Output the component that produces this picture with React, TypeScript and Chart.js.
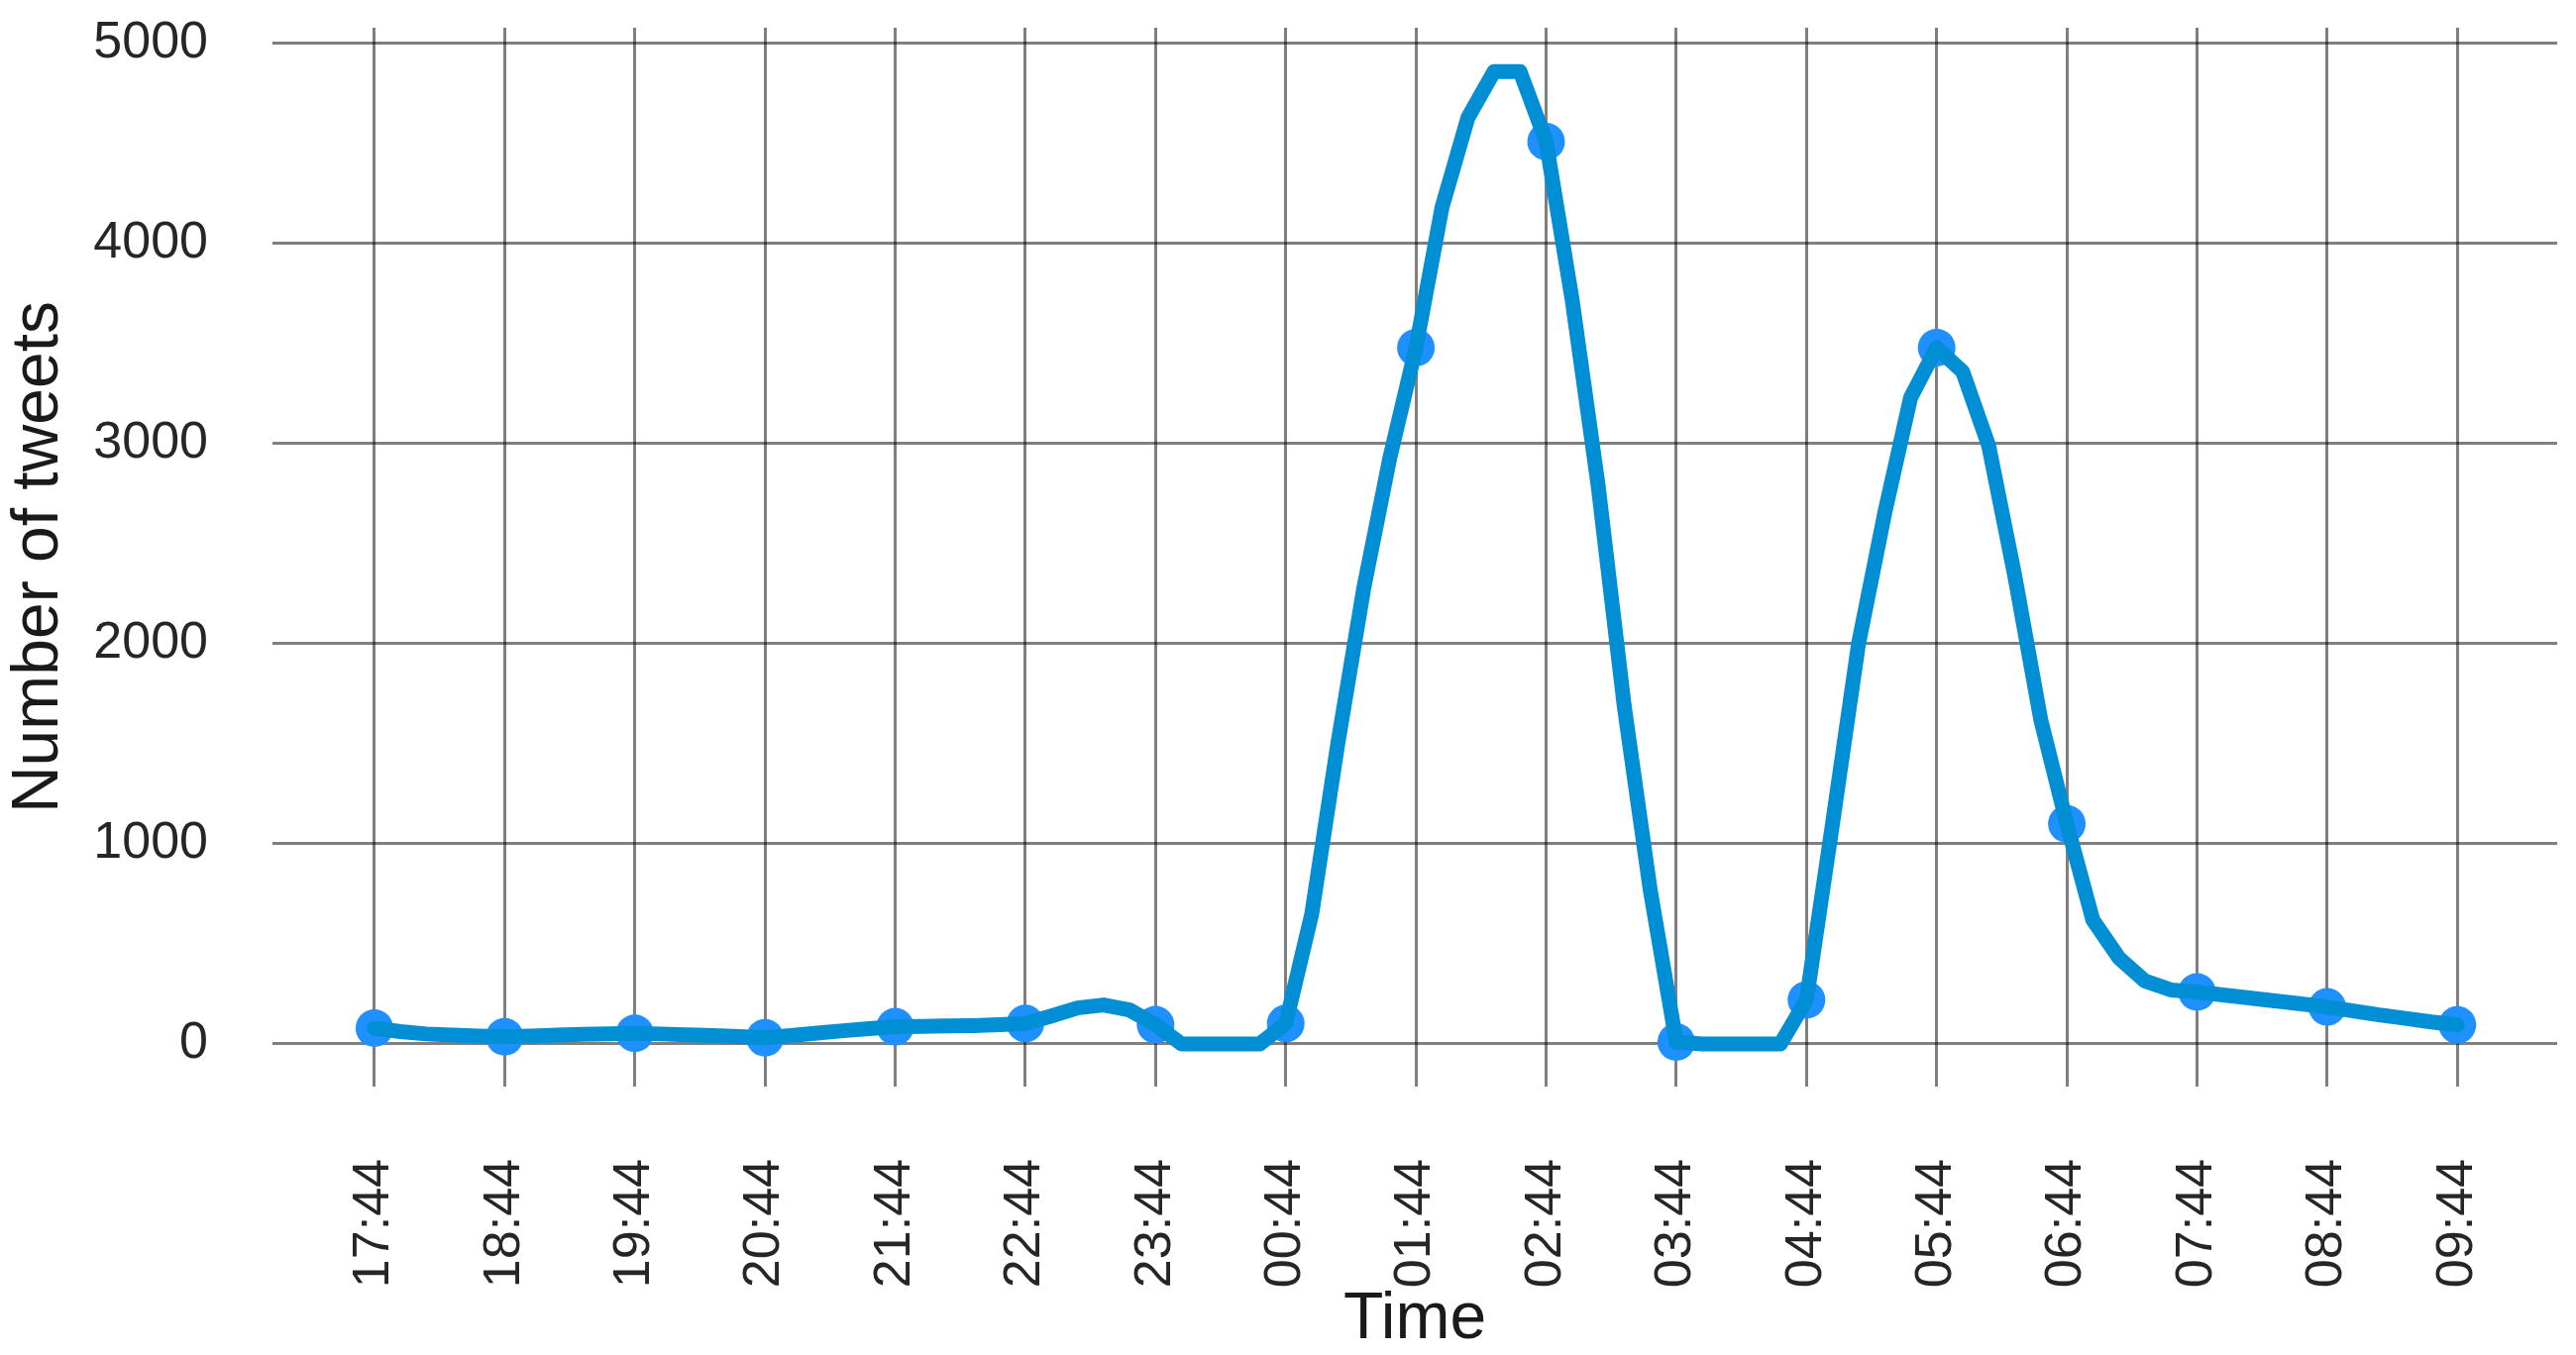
import React, { useEffect, useRef } from "react";
import { Chart, ChartConfiguration, registerables } from "chart.js";

Chart.register(...registerables);

// hourly tick labels on the time axis
const hourLabels = [
  "17:44", "18:44", "19:44", "20:44", "21:44", "22:44", "23:44", "00:44", "01:44",
  "02:44", "03:44", "04:44", "05:44", "06:44", "07:44", "08:44", "09:44",
];

// sample times of the tweet count series (12 minute steps)
const sampleTimes = [
  "17:44", "17:56", "18:08", "18:20", "18:32", "18:44", "18:56", "19:08", "19:20", "19:32",
  "19:44", "19:56", "20:08", "20:20", "20:32", "20:44", "20:56", "21:08", "21:20", "21:32",
  "21:44", "21:56", "22:08", "22:20", "22:32", "22:44", "22:56", "23:08", "23:20", "23:32",
  "23:44", "23:56", "00:08", "00:20", "00:32", "00:44", "00:56", "01:08", "01:20", "01:32",
  "01:44", "01:56", "02:08", "02:20", "02:32", "02:44", "02:56", "03:08", "03:20", "03:32",
  "03:44", "03:56", "04:08", "04:20", "04:32", "04:44", "04:56", "05:08", "05:20", "05:32",
  "05:44", "05:56", "06:08", "06:20", "06:32", "06:44", "06:56", "07:08", "07:20", "07:32",
  "07:44", "07:56", "08:08", "08:20", "08:32", "08:44", "08:56", "09:08", "09:20", "09:32",
  "09:44",
];

const tweetCounts = [
  79, 62, 50, 44, 40, 36, 40, 44, 48, 51,
  53, 50, 46, 42, 37, 31, 42, 54, 66, 77,
  86, 88, 90, 92, 96, 102, 140, 180, 195, 170,
  96, 0, 0, 0, 0, 102, 650, 1500, 2280, 2930,
  3480, 4180, 4630, 4860, 4860, 4510, 3720, 2790, 1690, 770,
  10, 0, 0, 0, 0, 220, 1100, 2000, 2650, 3230,
  3480, 3360, 2990, 2340, 1620, 1100, 620, 430, 315, 270,
  260, 245, 230, 215, 200, 185, 165, 145, 128, 110,
  95,
];

const yTicks = [0, 1000, 2000, 3000, 4000, 5000];

const toOffset = (t: string) => {
  const [h, m] = t.split(":").map(Number);
  const [h0, m0] = hourLabels[0].split(":").map(Number);
  return (h * 60 + m - (h0 * 60 + m0) + 1440) % 1440;
};

const FONT = "'Liberation Sans', Arial, sans-serif";
const GRID = "rgba(0, 0, 0, 0.5)";

const App: React.FC = () => {
  const canvasRef = useRef<HTMLCanvasElement | null>(null);

  useEffect(() => {
    if (!canvasRef.current) return;
    const ctx = canvasRef.current.getContext("2d");
    if (!ctx) return;

    const linePoints = sampleTimes.map((t, i) => ({ x: toOffset(t), y: tweetCounts[i] }));
    const markerPoints = linePoints.filter((_, i) => hourLabels.includes(sampleTimes[i]));
    const hourOffsets = hourLabels.map(toOffset);

    const config: ChartConfiguration<"line"> = {
      type: "line",
      data: {
        datasets: [
          {
            label: "Number of tweets",
            data: linePoints,
            borderColor: "#008fd5",
            borderWidth: 15,
            borderJoinStyle: "round",
            borderCapStyle: "round",
            pointRadius: 0,
            tension: 0,
            order: 1,
          },
          {
            label: "hourly",
            data: markerPoints,
            showLine: false,
            pointRadius: 19,
            pointBackgroundColor: "#1e90ff",
            pointBorderWidth: 0,
            order: 2,
          },
        ],
      },
      options: {
        animation: false,
        responsive: true,
        maintainAspectRatio: false,
        layout: { padding: { top: 28, right: 17, left: 0, bottom: 0 } },
        plugins: {
          legend: { display: false },
          tooltip: { enabled: false },
        },
        scales: {
          x: {
            type: "linear",
            min: -47,
            max: 1006,
            afterBuildTicks: (axis) => {
              axis.ticks = hourOffsets.map((v) => ({ value: v }));
            },
            afterFit: (axis) => {
              axis.height = 271;
              axis.paddingLeft = 0;
              axis.paddingRight = 0;
            },
            grid: { color: GRID, lineWidth: 3, drawTicks: false },
            border: { display: false },
            ticks: {
              autoSkip: false,
              maxRotation: 90,
              minRotation: 90,
              padding: 73,
              color: "#262626",
              font: { family: FONT, size: 52 },
              callback: (_v, i) => hourLabels[i],
            },
            title: {
              display: true,
              text: "Time",
              color: "#1a1a1a",
              font: { family: FONT, size: 66, lineHeight: 1 },
              padding: { top: 0, bottom: 2 },
            },
          },
          y: {
            min: -213,
            max: 5079,
            afterBuildTicks: (axis) => {
              axis.ticks = yTicks.map((v) => ({ value: v }));
            },
            afterFit: (axis) => {
              axis.width = 275;
              axis.paddingTop = 0;
              axis.paddingBottom = 0;
            },
            grid: { color: GRID, lineWidth: 3, drawTicks: false },
            border: { display: false },
            ticks: {
              padding: 65,
              color: "#262626",
              font: { family: FONT, size: 52 },
              callback: (v) => String(v),
            },
            title: {
              display: true,
              text: "Number of tweets",
              color: "#1a1a1a",
              font: { family: FONT, size: 66, lineHeight: 1 },
              padding: { top: 7, bottom: 0 },
            },
          },
        },
      },
    };

    const chart = new Chart(ctx, config);
    return () => {
      chart.destroy();
    };
  }, []);

  return (
    <div style={{ position: "absolute", left: 0, top: 0, width: 2600, height: 1368, background: "#fff" }}>
      <canvas ref={canvasRef} />
    </div>
  );
};

export default App;
